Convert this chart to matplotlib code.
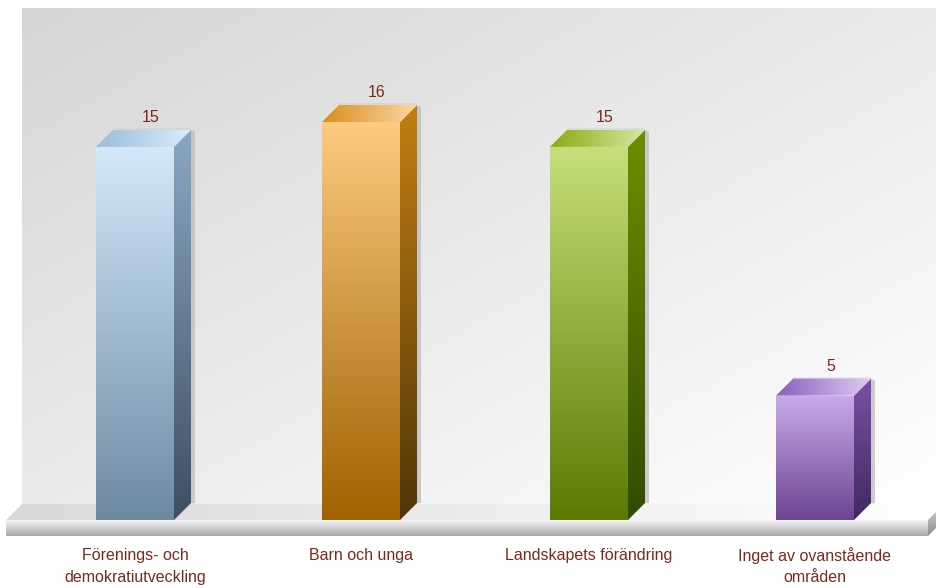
import numpy as np
import matplotlib
matplotlib.use("Agg")
import matplotlib.pyplot as plt
from matplotlib.colors import LinearSegmentedColormap
from matplotlib.patches import Polygon

categories = ["Förenings- och\ndemokratiutveckling", "Barn och unga", "Landskapets förändring", "Inget av ovanstående\nområden"]
values = [15, 16, 15, 5]
front_colors = [("#d3e9fb", "#6e8aa3"), ("#fdca80", "#a06200"), ("#c5e07a", "#5a7b00"), ("#caaaea", "#6c4591")]
side_colors = [("#8aa8c3", "#3e4f61"), ("#c27f10", "#50350a"), ("#6a9000", "#344a00"), ("#7a50a8", "#42285e")]
top_colors = [("#9abddc", "#d9ecfb"), ("#d98e1e", "#fcd7a2"), ("#89aa10", "#d5e9a2"), ("#8a60c0", "#decaf3")]
label_color = "#7a2a1c"

W, H = 936, 588
x0_px, x_step = 135.0, 226.67
y0_px, y_step = 520.0, 24.875
bar_w = 78 / x_step
depth = 17


def X(px):
    return (px - x0_px) / x_step


def Y(py):
    return (y0_px - py) / y_step


fig = plt.figure(figsize=(W / 100, H / 100), dpi=100)
ax = fig.add_axes([0, 0, 1, 1])
ax.axis("off")
plt.rcParams["font.family"] = ["Liberation Sans", "DejaVu Sans"]


def fill(points, c1, c2, horizontal=False, zorder=1, diag=False):
    # gradient image clipped to a polygon, points are in data coords
    pts = np.array(points)
    poly = Polygon(pts, closed=True, fc="none", ec="none", transform=ax.transData)
    ax.add_patch(poly)
    cmap = LinearSegmentedColormap.from_list("g", [c1, c2])
    if diag:
        u, v = np.meshgrid(np.linspace(0, 1, 128), np.linspace(0, 1, 128))
        grad = (u + v) / 2
    elif horizontal:
        grad = np.linspace(0, 1, 128).reshape(1, -1)
    else:
        grad = np.linspace(0, 1, 128).reshape(-1, 1)
    extent = [pts[:, 0].min(), pts[:, 0].max(), pts[:, 1].min(), pts[:, 1].max()]
    im = ax.imshow(grad, cmap=cmap, extent=extent, origin="upper", aspect="auto",
                   zorder=zorder, vmin=0, vmax=1)
    im.set_clip_path(poly)


def px_poly(pairs):
    return [(X(a), Y(b)) for a, b in pairs]


# back wall
fill(px_poly([(22, 8), (936, 8), (936, 505), (22, 505)]), "#d6d6d6", "#ffffff", diag=True, zorder=1)
# floor
fill(px_poly([(6, 520), (22, 504), (936, 504), (928, 520)]), "#d9d9d9", "#ffffff", horizontal=True, zorder=2)
# platform front and right end
fill(px_poly([(6, 520), (928, 520), (928, 536), (6, 536)]), "#f6f6f6", "#a8a8a8", zorder=6)
fill(px_poly([(928, 520), (936, 512), (936, 528), (928, 536)]), "#c4c4c4", "#8c8c8c", zorder=6)

bar_pos = [X(135), X(361), X(589), X(815)]
bars = ax.bar(bar_pos, values, width=bar_w, color="none", zorder=5)
dx = depth / x_step
dy = depth / y_step

for i, (rect, val) in enumerate(zip(bars, values)):
    l, r = rect.get_x(), rect.get_x() + rect.get_width()
    # soft shadow behind the box
    sw = 4 / x_step
    ax.add_patch(Polygon([(l + dx, val + dy), (r + dx, val + dy), (r + dx + sw, val + dy - 0.08),
                          (r + dx + sw, dy), (r + dx, dy - 0.02), (r + dx, val + dy)],
                         closed=True, fc="#bdbdbd", ec="none", alpha=0.75, zorder=3))
    ax.add_patch(Polygon([(l + dx, val + dy), (r + dx, val + dy), (r + dx, val + dy + 0.08), (l + dx, val + dy + 0.08)],
                         closed=True, fc="#c8c8c8", ec="none", alpha=0.35, zorder=3))
    # front, side and top faces
    fill([(l, 0), (r, 0), (r, val), (l, val)], front_colors[i][0], front_colors[i][1], zorder=5)
    fill([(r, 0), (r + dx, dy), (r + dx, val + dy), (r, val)], side_colors[i][0], side_colors[i][1], zorder=5)
    fill([(l, val), (r, val), (r + dx, val + dy), (l + dx, val + dy)], top_colors[i][0], top_colors[i][1],
         horizontal=True, zorder=5)
    ax.text(bar_pos[i] + dx * 0.92, val + dy + 0.5, str(val), ha="center", va="center", fontsize=11.5,
            color=label_color, zorder=7)
    lines = categories[i].split("\n")
    for j, line in enumerate(lines):
        ax.text(bar_pos[i], Y(555.5 + 22 * j), line, ha="center", va="center", fontsize=11.5,
                color=label_color, zorder=7)

ax.set_xlim(X(0), X(W))
ax.set_ylim(Y(H), Y(0))
fig.savefig("out.png", dpi=100)
